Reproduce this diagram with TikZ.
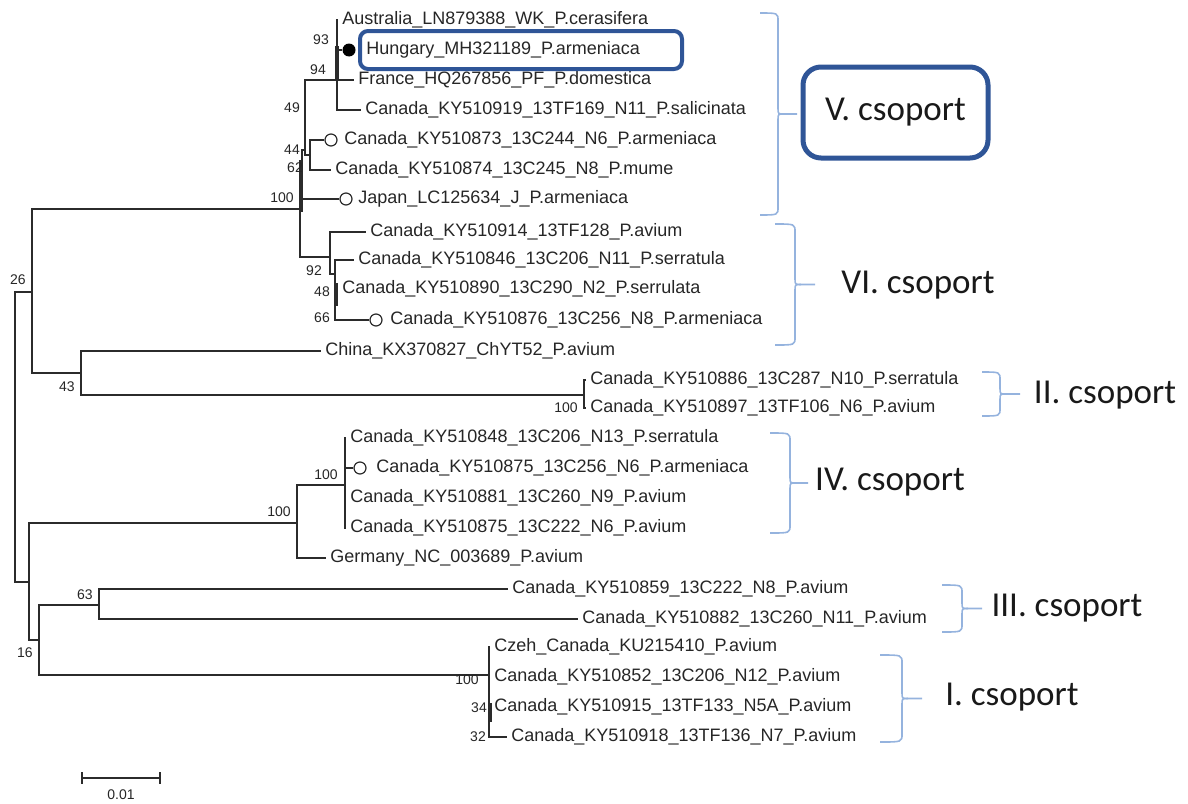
\documentclass[tikz,border=0pt]{standalone}
\usepackage{fontspec}
\setmainfont{Liberation Sans}
\newfontfamily\grpfont{Carlito}
\definecolor{treecol}{HTML}{2B2B2B}
\definecolor{boxblue}{HTML}{2F5597}
\definecolor{bracecol}{HTML}{95B3DE}
\newcommand\grpbrace[5]{%
  \draw[gbrace] ({#1},{#4}) .. controls ({#2},{#4}) .. ({#2},{#4+8}) -- ({#2},{(#4+#5)/2-6}) .. controls ({#2},{(#4+#5)/2}) .. ({#2+6},{(#4+#5)/2}) -- ({#3},{(#4+#5)/2});
  \draw[gbrace] ({#2+6},{(#4+#5)/2}) .. controls ({#2},{(#4+#5)/2}) .. ({#2},{(#4+#5)/2+6}) -- ({#2},{#5-8}) .. controls ({#2},{#5}) .. ({#1},{#5});
}
\begin{document}
\begin{tikzpicture}[x=0.5pt,y=-0.5pt,
  br/.style={draw=treecol, line width=0.75pt},
  thickbr/.style={draw=treecol, line width=1.8pt},
  leaf/.style={anchor=west, inner xsep=2pt, inner ysep=0pt, font=\fontsize{9}{10}\selectfont, text=black!85},
  bs/.style={font=\fontsize{7}{8}\selectfont, inner sep=0pt, text=black!85},
  opencirc/.style={circle, draw=treecol, line width=0.6pt, minimum size=6pt, inner sep=0pt},
  dotc/.style={circle, fill=black, minimum size=6.5pt, inner sep=0pt},
  gbrace/.style={draw=bracecol, line width=0.8pt},
  glabel/.style={font=\grpfont\fontsize{17.5}{20}\selectfont, text=black!90, inner sep=0pt}
]
\useasboundingbox (0,0) rectangle (1188,803);

% internal nodes
\coordinate (r) at (15,437);
\coordinate (n26) at (32,292);
\coordinate (n100a) at (300,209);
\coordinate (n62) at (302,175);
\coordinate (n49) at (305,150);
\coordinate (nA) at (337,80);
\coordinate (n44) at (310,155);
\coordinate (n92) at (330,257);
\coordinate (n48) at (335,274);
\coordinate (n43) at (81,373);
\coordinate (nII) at (584,395);
\coordinate (nX) at (29,582);
\coordinate (nG) at (297,523);
\coordinate (nIV) at (345,485);
\coordinate (n16) at (39,640);
\coordinate (n63) at (99,605);
\coordinate (nI) at (489,675);

% leaves
\node[leaf] (l1) at (338,20) {Australia\_LN879388\_WK\_P.cerasifera};
\node[dotc] (d2) at (349,50) {};
\node[leaf] (l2) at (362,50) {Hungary\_MH321189\_P.armeniaca};
\node[leaf] (l3) at (354,80) {France\_HQ267856\_PF\_P.domestica};
\node[leaf] (l4) at (361,110) {Canada\_KY510919\_13TF169\_N11\_P.salicinata};
\node[opencirc] (c5) at (331,140) {};
\node[leaf] (l5) at (340,140) {Canada\_KY510873\_13C244\_N6\_P.armeniaca};
\node[leaf] (l6) at (331,170) {Canada\_KY510874\_13C245\_N8\_P.mume};
\node[opencirc] (c7) at (346,199) {};
\node[leaf] (l7) at (354,199) {Japan\_LC125634\_J\_P.armeniaca};
\node[leaf] (l8) at (366,232) {Canada\_KY510914\_13TF128\_P.avium};
\node[leaf] (l9) at (354,260) {Canada\_KY510846\_13C206\_N11\_P.serratula};
\node[leaf] (l10) at (338,289) {Canada\_KY510890\_13C290\_N2\_P.serrulata};
\node[opencirc] (c11) at (376,320) {};
\node[leaf] (l11) at (386,320) {Canada\_KY510876\_13C256\_N8\_P.armeniaca};
\node[leaf] (l12) at (321,351) {China\_KX370827\_ChYT52\_P.avium};
\node[leaf] (l13) at (586,380) {Canada\_KY510886\_13C287\_N10\_P.serratula};
\node[leaf] (l14) at (586,408) {Canada\_KY510897\_13TF106\_N6\_P.avium};
\node[leaf] (l15) at (346,438) {Canada\_KY510848\_13C206\_N13\_P.serratula};
\node[opencirc] (c16) at (360,468) {};
\node[leaf] (l16) at (372,468) {Canada\_KY510875\_13C256\_N6\_P.armeniaca};
\node[leaf] (l17) at (346,498) {Canada\_KY510881\_13C260\_N9\_P.avium};
\node[leaf] (l18) at (346,528) {Canada\_KY510875\_13C222\_N6\_P.avium};
\node[leaf] (l19) at (326,558) {Germany\_NC\_003689\_P.avium};
\node[leaf] (l20) at (508,589) {Canada\_KY510859\_13C222\_N8\_P.avium};
\node[leaf] (l21) at (578,619) {Canada\_KY510882\_13C260\_N11\_P.avium};
\node[leaf] (l22) at (490,647) {Czeh\_Canada\_KU215410\_P.avium};
\node[leaf] (l23) at (490,677) {Canada\_KY510852\_13C206\_N12\_P.avium};
\node[leaf] (l24) at (490,707) {Canada\_KY510915\_13TF133\_N5A\_P.avium};
\node[leaf] (l25) at (507,737) {Canada\_KY510918\_13TF136\_N7\_P.avium};

% branches
\draw[br] (r) |- (n26);  \draw[br] (r) |- (nX);
\draw[br] (n26) |- (n100a); \draw[br] (n26) |- (n43);
\draw[br] (n100a) |- (n62); \draw[br] (n100a) |- (n92);
\draw[br] (n62) |- (n49); \draw[br] (n62) |- (c7.west);
\draw[br] (n49) |- (nA); \draw[br] (n49) |- (n44);
\draw[br] (nA) |- (l1.west); \draw[br] (nA) |- (d2.west);
\draw[br] (nA) |- (l3.west); \draw[br] (nA) |- (l4.west);
\draw[br] (n44) |- (c5.west); \draw[br] (n44) |- (l6.west);
\draw[br] (n92) |- (l8.west); \draw[br] (n92) |- (n48);
\draw[br] (n48) |- (l9.west); \draw[br] (n48) |- (l10.west); \draw[br] (n48) |- (c11.west);
\draw[br] (n43) |- (l12.west); \draw[br] (n43) |- (nII);
\draw[br] (nII) |- (l13.west); \draw[br] (nII) |- (l14.west);
\draw[br] (nX) |- (nG); \draw[br] (nX) |- (n16);
\draw[br] (nG) |- (nIV); \draw[br] (nG) |- (l19.west);
\draw[br] (nIV) |- (l15.west); \draw[br] (nIV) |- (c16.west);
\draw[br] (nIV) |- (l17.west); \draw[br] (nIV) |- (l18.west);
\draw[br] (n16) |- (n63); \draw[br] (n16) |- (nI);
\draw[br] (n63) |- (l20.west); \draw[br] (n63) |- (l21.west);
\draw[br] (nI) |- (l22.west); \draw[br] (nI) |- (l23.west);
\draw[br] (nI) |- (l24.west); \draw[br] (nI) |- (l25.west);

% short overlapping branches (bold)
\draw[thickbr] (337,46) -- (337,80);
\draw[thickbr] (301,160) -- (301,212);
\draw[thickbr] (336,283) -- (336,306);
\draw[thickbr] (490,703) -- (490,722);

% bootstrap values
\node[bs] (b93) at (321,40) {93};
\node[bs] (b94) at (318,70) {94};
\node[bs] (b49) at (292,108) {49};
\node[bs] (b44) at (292,150) {44};
\node[bs] (b62) at (295,168) {62};
\node[bs] (b100a) at (282,198) {100};
\node[bs] (b92) at (314,271) {92};
\node[bs] (b48) at (322,292) {48};
\node[bs] (b66) at (322,318) {66};
\node[bs] (b26) at (18,280) {26};
\node[bs] (b43) at (67,387) {43};
\node[bs] (b100b) at (566,408) {100};
\node[bs] (b100c) at (326,475) {100};
\node[bs] (b100d) at (279,512) {100};
\node[bs] (b63) at (85,595) {63};
\node[bs] (b16) at (25,653) {16};
\node[bs] (b100e) at (467,680) {100};
\node[bs] (b34) at (479,708) {34};
\node[bs] (b32) at (478,737) {32};

% scale bar
\coordinate (s1) at (82,778);
\coordinate (s2) at (160,778);
\draw[br] (s1) -- (s2);
\draw[br] ([yshift=3pt]s1) -- ([yshift=-3pt]s1);
\draw[br] ([yshift=3pt]s2) -- ([yshift=-3pt]s2);
\node[bs] (sl) at (121,795) {0.01};

% highlight boxes
\node[draw=boxblue, line width=2pt, rounded corners=4pt, minimum width=161pt, minimum height=19pt, inner sep=0pt] (hbox) at (521,50) {};
\node[draw=boxblue, line width=2.5pt, rounded corners=9pt, minimum width=92.5pt, minimum height=45.5pt, glabel] (g5) at (895.5,112.5) {V. csoport};

% braces
\grpbrace{760}{778}{797}{13}{215}
\grpbrace{775}{795}{815}{224}{345}
\grpbrace{982}{1000}{1020}{372}{416}
\grpbrace{770}{790}{808}{433}{533}
\grpbrace{942}{962}{982}{585}{632}
\grpbrace{880}{902}{922}{655}{742}

% group labels
\node[glabel] (g6) at (918,285) {VI. csoport};
\node[glabel] (g2) at (1105,395) {II. csoport};
\node[glabel] (g4) at (890,482) {IV. csoport};
\node[glabel] (g3) at (1067,608) {III. csoport};
\node[glabel] (g1) at (1012,697) {I. csoport};
\end{tikzpicture}
\end{document}
